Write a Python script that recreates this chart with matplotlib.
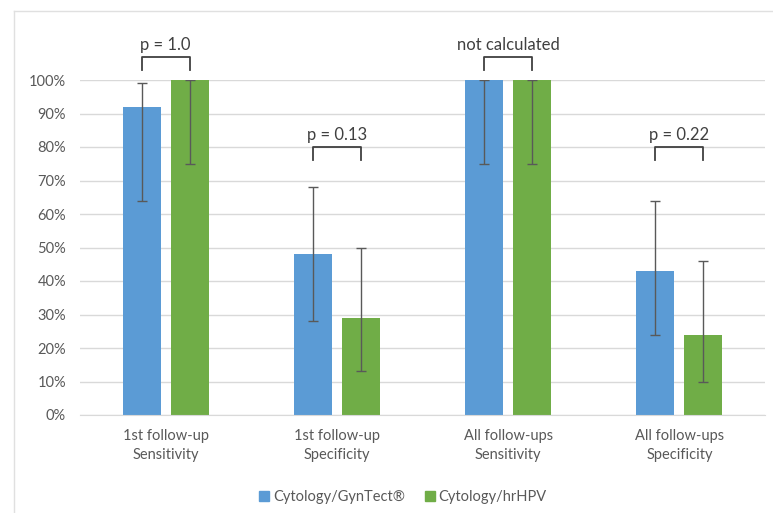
import numpy as np
import matplotlib.pyplot as plt
from matplotlib.lines import Line2D

categories = ["1st follow-up\nSensitivity", "1st follow-up\nSpecificity",
              "All follow-ups\nSensitivity", "All follow-ups\nSpecificity"]
series_names = ["Cytology/GynTect®", "Cytology/hrHPV"]
gyntect = [92, 48, 100, 43]
gyntect_lo = [64, 28, 75, 24]
gyntect_hi = [99, 68, 100, 64]
hrhpv = [100, 29, 100, 24]
hrhpv_lo = [75, 13, 75, 10]
hrhpv_hi = [100, 50, 100, 46]
p_labels = ["p = 1.0", "p = 0.13", "not calculated", "p = 0.22"]
bracket_top = [107, 80, 107, 80]

plt.rcParams['font.family'] = ['Lato', 'DejaVu Sans']
txt = '#595959'
blue = '#5B9BD5'
green = '#70AD47'

fig = plt.figure(figsize=(7.73, 5.13), dpi=100)
ax = fig.add_axes([80 / 773, 1 - 415 / 513, 685 / 773, 335 / 513])

x = np.arange(len(categories))
w = 0.222
off = 0.14
ax.bar(x - off, gyntect, w, color=blue, zorder=2)
ax.bar(x + off, hrhpv, w, color=green, zorder=2)

err_kw = dict(fmt='none', ecolor='#595959', elinewidth=1.0, capsize=3.5, capthick=1.0, zorder=3)
ax.errorbar(x - off, gyntect,
            yerr=[np.array(gyntect) - np.array(gyntect_lo), np.array(gyntect_hi) - np.array(gyntect)], **err_kw)
ax.errorbar(x + off, hrhpv,
            yerr=[np.array(hrhpv) - np.array(hrhpv_lo), np.array(hrhpv_hi) - np.array(hrhpv)], **err_kw)

# significance brackets
for i in range(len(categories)):
    top = bracket_top[i]
    x0, x1 = x[i] - off, x[i] + off
    ax.plot([x0, x0, x1, x1], [top - 4, top, top, top - 4], color='#404040', lw=1.3,
            clip_on=False, solid_joinstyle='round', zorder=4)
    ax.text(x[i], top + 1.2, p_labels[i], ha='center', va='bottom', fontsize=12, color='#404040')

ax.set_xlim(-0.5, 3.5)
ax.set_ylim(0, 100)
ax.set_yticks(np.arange(0, 101, 10))
ax.set_yticklabels([f"{v}%" for v in range(0, 101, 10)])
ax.set_xticks(x)
ax.set_xticklabels(categories, linespacing=1.45)
ax.tick_params(axis='both', length=0, labelsize=10.5, labelcolor=txt)
ax.tick_params(axis='y', pad=10)
ax.tick_params(axis='x', pad=10)
ax.grid(axis='y', color='#d9d9d9', lw=1.0, zorder=0)
for s in ['top', 'right', 'left']:
    ax.spines[s].set_visible(False)
ax.spines['bottom'].set_color('#d9d9d9')

handles = [Line2D([], [], marker='s', ls='none', color=blue, markersize=7),
           Line2D([], [], marker='s', ls='none', color=green, markersize=7)]
fig.legend(handles, series_names, loc='center', bbox_to_anchor=(402 / 773, 1 - 497 / 513),
           ncol=2, frameon=False, fontsize=10.5, labelcolor=txt, handletextpad=0.1,
           columnspacing=1.2, handlelength=1.0)

# faint sheet border
fig.add_artist(Line2D([14 / 773, 14 / 773], [0, 1 - 11 / 513], color='#e0e0e0', lw=1))
fig.add_artist(Line2D([14 / 773, 1], [1 - 11 / 513, 1 - 11 / 513], color='#e0e0e0', lw=1))

fig.savefig("out.png", dpi=100)
